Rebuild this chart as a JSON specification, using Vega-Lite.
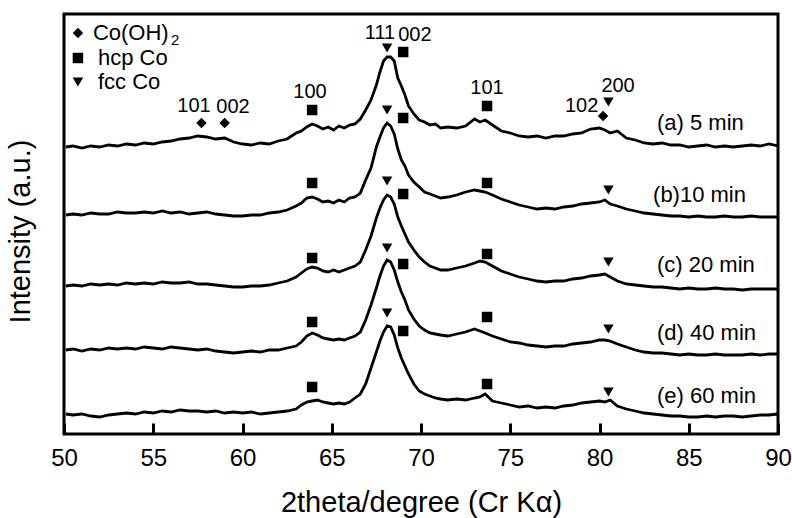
{
  "$schema": "https://vega.github.io/schema/vega-lite/v6.json",
  "width": 714,
  "height": 420,
  "autosize": {"type": "none"},
  "padding": {"left": 64, "top": 14, "right": 14, "bottom": 84},
  "background": "white",
  "config": {
    "view": {"stroke": "black", "strokeWidth": 3},
    "font": "Liberation Sans",
    "axis": {"grid": false, "domain": false, "labelColor": "black", "titleColor": "black", "labelFont": "Liberation Sans", "titleFont": "Liberation Sans", "titleFontWeight": "normal"}
  },
  "datasets": {
    "curves": [
      {"x":50.1,"a":287,"b":219,"c":148,"d":84,"e":20},
      {"x":50.5,"a":288,"b":220,"c":149,"d":85,"e":19},
      {"x":51,"a":286,"b":219,"c":148,"d":83,"e":20},
      {"x":51.5,"a":288,"b":221,"c":150,"d":85,"e":18},
      {"x":52,"a":287,"b":220,"c":149,"d":84,"e":17},
      {"x":52.5,"a":289,"b":220,"c":150,"d":86,"e":19},
      {"x":53,"a":288,"b":222,"c":149,"d":85,"e":20},
      {"x":53.5,"a":290,"b":221,"c":151,"d":86,"e":21},
      {"x":54,"a":289,"b":221,"c":150,"d":85,"e":20},
      {"x":54.5,"a":291,"b":222,"c":151,"d":87,"e":22},
      {"x":55,"a":290,"b":221,"c":150,"d":86,"e":21},
      {"x":55.5,"a":292,"b":223,"c":152,"d":85,"e":23},
      {"x":56,"a":293,"b":221,"c":151,"d":87,"e":22},
      {"x":56.5,"a":295,"b":222,"c":151,"d":86,"e":24},
      {"x":57,"a":296,"b":220,"c":152,"d":85,"e":23},
      {"x":57.5,"a":298,"b":221,"c":150,"d":84,"e":23},
      {"x":58,"a":297,"b":222,"c":150,"d":85,"e":22},
      {"x":58.5,"a":295,"b":220,"c":149,"d":83,"e":23},
      {"x":59,"a":296,"b":219,"c":148,"d":82,"e":21},
      {"x":59.5,"a":292,"b":218,"c":147,"d":81,"e":22},
      {"x":60,"a":290,"b":218,"c":147,"d":82,"e":21},
      {"x":60.5,"a":289,"b":219,"c":148,"d":83,"e":22},
      {"x":61,"a":291,"b":219,"c":148,"d":82,"e":20},
      {"x":61.5,"a":290,"b":221,"c":149,"d":84,"e":21},
      {"x":62,"a":293,"b":222,"c":151,"d":84,"e":22},
      {"x":62.5,"a":295,"b":224,"c":153,"d":86,"e":23},
      {"x":63,"a":301,"b":228,"c":157,"d":88,"e":25},
      {"x":63.3,"a":303,"b":231,"c":161,"d":92,"e":29},
      {"x":63.6,"a":307,"b":236,"c":165,"d":98,"e":32},
      {"x":63.9,"a":310,"b":237,"c":167,"d":101,"e":33},
      {"x":64.2,"a":308,"b":235,"c":166,"d":99,"e":34},
      {"x":64.5,"a":305,"b":232,"c":163,"d":96,"e":32},
      {"x":64.8,"a":307,"b":233,"c":162,"d":95,"e":31},
      {"x":65.1,"a":304,"b":231,"c":164,"d":94,"e":30},
      {"x":65.4,"a":308,"b":234,"c":162,"d":95,"e":31},
      {"x":65.7,"a":306,"b":232,"c":164,"d":94,"e":30},
      {"x":66,"a":309,"b":236,"c":166,"d":96,"e":32},
      {"x":66.3,"a":310,"b":237,"c":168,"d":98,"e":36},
      {"x":66.6,"a":315,"b":241,"c":172,"d":102,"e":40},
      {"x":66.9,"a":324,"b":254,"c":184,"d":114,"e":50},
      {"x":67.2,"a":334,"b":266,"c":198,"d":129,"e":66},
      {"x":67.5,"a":349,"b":287,"c":216,"d":146,"e":82},
      {"x":67.7,"a":362,"b":297,"c":226,"d":158,"e":93},
      {"x":67.9,"a":373,"b":306,"c":234,"d":168,"e":102},
      {"x":68.1,"a":377,"b":311,"c":239,"d":174,"e":108},
      {"x":68.3,"a":377,"b":308,"c":237,"d":172,"e":107},
      {"x":68.5,"a":373,"b":300,"c":230,"d":164,"e":99},
      {"x":68.7,"a":356,"b":285,"c":217,"d":152,"e":86},
      {"x":68.9,"a":348,"b":274,"c":208,"d":142,"e":76},
      {"x":69.1,"a":339,"b":268,"c":200,"d":134,"e":68},
      {"x":69.3,"a":328,"b":259,"c":192,"d":124,"e":60},
      {"x":69.6,"a":320,"b":252,"c":184,"d":115,"e":50},
      {"x":69.9,"a":314,"b":247,"c":177,"d":108,"e":43},
      {"x":70.2,"a":312,"b":242,"c":172,"d":104,"e":40},
      {"x":70.5,"a":309,"b":240,"c":168,"d":101,"e":38},
      {"x":70.8,"a":310,"b":238,"c":166,"d":100,"e":36},
      {"x":71.1,"a":306,"b":236,"c":164,"d":99,"e":35},
      {"x":71.5,"a":307,"b":237,"c":164,"d":98,"e":34},
      {"x":72,"a":306,"b":239,"c":166,"d":100,"e":35},
      {"x":72.5,"a":308,"b":242,"c":168,"d":102,"e":34},
      {"x":73,"a":315,"b":244,"c":171,"d":105,"e":36},
      {"x":73.3,"a":312,"b":243,"c":173,"d":103,"e":37},
      {"x":73.6,"a":314,"b":242,"c":172,"d":101,"e":40},
      {"x":74,"a":309,"b":239,"c":168,"d":98,"e":33},
      {"x":74.5,"a":303,"b":235,"c":163,"d":95,"e":31},
      {"x":75,"a":301,"b":232,"c":160,"d":92,"e":29},
      {"x":75.5,"a":298,"b":229,"c":157,"d":91,"e":27},
      {"x":76,"a":297,"b":227,"c":155,"d":89,"e":28},
      {"x":76.5,"a":298,"b":225,"c":153,"d":88,"e":26},
      {"x":77,"a":296,"b":226,"c":152,"d":87,"e":27},
      {"x":77.5,"a":298,"b":225,"c":153,"d":88,"e":26},
      {"x":78,"a":298,"b":227,"c":153,"d":88,"e":28},
      {"x":78.5,"a":300,"b":228,"c":155,"d":90,"e":29},
      {"x":79,"a":301,"b":230,"c":156,"d":91,"e":31},
      {"x":79.5,"a":305,"b":231,"c":158,"d":92,"e":32},
      {"x":80,"a":306,"b":232,"c":159,"d":94,"e":33},
      {"x":80.3,"a":304,"b":234,"c":160,"d":94,"e":32},
      {"x":80.6,"a":301,"b":230,"c":157,"d":93,"e":34},
      {"x":81,"a":303,"b":228,"c":153,"d":90,"e":28},
      {"x":81.5,"a":296,"b":225,"c":150,"d":87,"e":25},
      {"x":82,"a":294,"b":223,"c":149,"d":84,"e":23},
      {"x":82.5,"a":291,"b":221,"c":148,"d":82,"e":21},
      {"x":83,"a":290,"b":220,"c":147,"d":81,"e":20},
      {"x":83.5,"a":291,"b":219,"c":147,"d":81,"e":19},
      {"x":84,"a":289,"b":218,"c":146,"d":80,"e":18},
      {"x":84.5,"a":289,"b":218,"c":145,"d":79,"e":18},
      {"x":85,"a":287,"b":217,"c":146,"d":80,"e":17},
      {"x":85.5,"a":288,"b":218,"c":145,"d":79,"e":17},
      {"x":86,"a":289,"b":217,"c":145,"d":79,"e":18},
      {"x":86.5,"a":287,"b":217,"c":146,"d":80,"e":17},
      {"x":87,"a":288,"b":218,"c":145,"d":79,"e":18},
      {"x":87.5,"a":287,"b":217,"c":145,"d":79,"e":18},
      {"x":88,"a":288,"b":217,"c":144,"d":79,"e":17},
      {"x":88.5,"a":289,"b":218,"c":145,"d":80,"e":18},
      {"x":89,"a":288,"b":217,"c":145,"d":79,"e":19},
      {"x":89.5,"a":290,"b":217,"c":145,"d":80,"e":19},
      {"x":90,"a":288,"b":217,"c":145,"d":80,"e":20}
    ],
    "markers": [
      {"phase":"Co(OH)2","x":57.7,"y":311},
      {"phase":"Co(OH)2","x":59.0,"y":311},
      {"phase":"hcp Co","x":63.9,"y":324},
      {"phase":"fcc Co","x":68.1,"y":386},
      {"phase":"hcp Co","x":69.0,"y":382},
      {"phase":"hcp Co","x":73.7,"y":328},
      {"phase":"Co(OH)2","x":80.2,"y":318},
      {"phase":"fcc Co","x":80.5,"y":332},
      {"phase":"hcp Co","x":63.9,"y":251},
      {"phase":"fcc Co","x":68.1,"y":324},
      {"phase":"hcp Co","x":69.0,"y":316},
      {"phase":"hcp Co","x":73.7,"y":251},
      {"phase":"fcc Co","x":80.5,"y":244},
      {"phase":"hcp Co","x":63.9,"y":176},
      {"phase":"fcc Co","x":68.1,"y":253},
      {"phase":"hcp Co","x":69.0,"y":240},
      {"phase":"hcp Co","x":73.7,"y":180},
      {"phase":"fcc Co","x":80.5,"y":172},
      {"phase":"hcp Co","x":63.9,"y":112},
      {"phase":"fcc Co","x":68.1,"y":186},
      {"phase":"hcp Co","x":69.0,"y":170},
      {"phase":"hcp Co","x":73.7,"y":117},
      {"phase":"fcc Co","x":80.5,"y":105},
      {"phase":"hcp Co","x":63.9,"y":47},
      {"phase":"fcc Co","x":68.1,"y":121},
      {"phase":"hcp Co","x":69.0,"y":103},
      {"phase":"hcp Co","x":73.7,"y":50},
      {"phase":"fcc Co","x":80.5,"y":42}
    ],
    "peaks": [
      {"label":"101","x":57.28,"y":328},
      {"label":"002","x":59.47,"y":327},
      {"label":"100","x":63.78,"y":342},
      {"label":"111","x":67.7,"y":401},
      {"label":"002","x":69.66,"y":399},
      {"label":"101","x":73.7,"y":346},
      {"label":"102","x":79.0,"y":328},
      {"label":"200","x":81.04,"y":348}
    ],
    "samples": [
      {"label":"(a) 5 min","x":83.22,"y":311},
      {"label":"(b)10 min","x":83.0,"y":239},
      {"label":"(c) 20 min","x":83.22,"y":169},
      {"label":"(d) 40 min","x":83.22,"y":101},
      {"label":"(e) 60 min","x":83.22,"y":38}
    ],
    "legendSym": [
      {"phase":"Co(OH)2","x":50.78,"y":401},
      {"phase":"hcp Co","x":50.78,"y":376},
      {"phase":"fcc Co","x":50.78,"y":352}
    ],
    "legendText": [
      {"label":"Co(OH)","x":51.62,"y":401},
      {"label":"hcp Co","x":51.9,"y":376},
      {"label":"fcc Co","x":51.9,"y":352}
    ],
    "subscript": [
      {"label":"2","x":56.0,"y":394}
    ]
  },
  "layer": [
    {
      "data": {"name": "curves"},
      "transform": [{"fold": ["a","b","c","d","e"], "as": ["series","value"]}],
      "mark": {"type": "line", "color": "black", "strokeWidth": 2.8, "clip": true},
      "encoding": {
        "x": {"field": "x", "type": "quantitative", "scale": {"domain": [50, 90], "nice": false, "zero": false},
              "axis": {"values": [50,55,60,65,70,75,80,85,90], "ticks": true, "tickColor": "black", "tickWidth": 3, "tickSize": 11, "offset": -11, "labelFlush": false, "labelFontSize": 24, "labelPadding": 12, "title": "2theta/degree (Cr Kα)", "titleFontSize": 29, "titlePadding": 18, "zindex": 2}},
        "y": {"field": "value", "type": "quantitative", "scale": {"domain": [0, 420], "nice": false, "zero": false},
              "axis": {"ticks": false, "labels": false, "title": "Intensity (a.u.)", "titleFontSize": 29, "titlePadding": 29, "titleY": 217}},
        "detail": {"field": "series"}
      }
    },
    {
      "data": {"name": "markers"},
      "mark": {"type": "point", "filled": true, "color": "black", "opacity": 1, "size": 110},
      "encoding": {
        "x": {"field": "x", "type": "quantitative"},
        "y": {"field": "y", "type": "quantitative"},
        "shape": {"field": "phase", "type": "nominal", "scale": {"domain": ["Co(OH)2","hcp Co","fcc Co"], "range": ["diamond","square","triangle-down"]}, "legend": null}
      }
    },
    {
      "data": {"name": "legendSym"},
      "mark": {"type": "point", "filled": true, "color": "black", "opacity": 1, "size": 110},
      "encoding": {
        "x": {"field": "x", "type": "quantitative"},
        "y": {"field": "y", "type": "quantitative"},
        "shape": {"field": "phase", "type": "nominal", "legend": null}
      }
    },
    {
      "data": {"name": "legendText"},
      "mark": {"type": "text", "align": "left", "baseline": "middle", "fontSize": 22, "color": "black", "font": "Liberation Sans"},
      "encoding": {
        "x": {"field": "x", "type": "quantitative"},
        "y": {"field": "y", "type": "quantitative"},
        "text": {"field": "label"}
      }
    },
    {
      "data": {"name": "subscript"},
      "mark": {"type": "text", "align": "left", "baseline": "middle", "fontSize": 15, "color": "black", "font": "Liberation Sans"},
      "encoding": {
        "x": {"field": "x", "type": "quantitative"},
        "y": {"field": "y", "type": "quantitative"},
        "text": {"field": "label"}
      }
    },
    {
      "data": {"name": "peaks"},
      "mark": {"type": "text", "align": "center", "baseline": "middle", "fontSize": 20, "color": "black", "font": "Liberation Sans"},
      "encoding": {
        "x": {"field": "x", "type": "quantitative"},
        "y": {"field": "y", "type": "quantitative"},
        "text": {"field": "label"}
      }
    },
    {
      "data": {"name": "samples"},
      "mark": {"type": "text", "align": "left", "baseline": "middle", "fontSize": 22, "color": "black", "font": "Liberation Sans"},
      "encoding": {
        "x": {"field": "x", "type": "quantitative"},
        "y": {"field": "y", "type": "quantitative"},
        "text": {"field": "label"}
      }
    }
  ]
}
